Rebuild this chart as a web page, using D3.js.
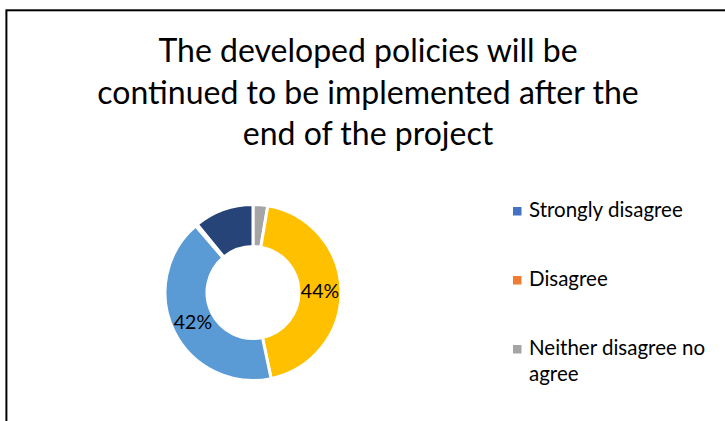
<!DOCTYPE html>
<html>
<head>
<meta charset="utf-8">
<script src="https://cdn.jsdelivr.net/npm/d3@7"></script>
<style>
  html, body { margin: 0; padding: 0; background: #fff; overflow: hidden; }
  text { font-family: Lato, "Open Sans", sans-serif; fill: #000; }
</style>
</head>
<body>
<svg id="chart" width="725" height="421"></svg>
<script>
// Chart title, one entry per line
const titleLines = [
  "The developed policies will be",
  "continued to be implemented after the",
  "end of the project"
];

// Donut slices, clockwise from 12 o'clock (percent of responses)
const sliceNames  = ["Neither disagree no agree", "Agree", "Strongly disagree", "Disagree", "Strongly agree"];
const sliceValues = [2.7, 44, 42, 0.4, 10.9];
const sliceColors = ["#A5A5A5", "#FFC000", "#5B9BD5", "#70AD47", "#264478"];
const labelledSlices = ["Agree", "Strongly disagree"];

// Legend entries
const legendNames  = ["Strongly disagree", "Disagree", "Neither disagree no agree"];
const legendColors = ["#4472C4", "#ED7D31", "#A5A5A5"];

const svg = d3.select("#chart");

// chart frame
svg.append("rect")
  .attr("x", 6.4).attr("y", 10.3)
  .attr("width", 760).attr("height", 460)
  .attr("fill", "#fff")
  .attr("stroke", "#000")
  .attr("stroke-width", 2);

// title
svg.append("g").selectAll("text")
  .data(titleLines)
  .join("text")
  .attr("x", 368)
  .attr("y", (d, i) => 62 + i * 41.5)
  .attr("text-anchor", "middle")
  .attr("font-size", 32)
  .text(d => d);

// donut
const cx = 253, cy = 292.5, rOuter = 88, rInner = 46;
const slices = sliceNames.map((name, i) => ({ name, value: sliceValues[i], color: sliceColors[i] }));
const pie = d3.pie().sort(null).value(d => d.value);
const arc = d3.arc().innerRadius(rInner).outerRadius(rOuter);
const arcs = pie(slices);

const g = svg.append("g").attr("transform", `translate(${cx},${cy})`);
g.selectAll("path")
  .data(arcs)
  .join("path")
  .attr("d", arc)
  .attr("fill", d => d.data.color)
  .attr("stroke", "#fff")
  .attr("stroke-width", 3)
  .attr("stroke-linejoin", "miter");

const labelArc = d3.arc().innerRadius((rInner + rOuter) / 2).outerRadius((rInner + rOuter) / 2);
g.selectAll("text.lbl")
  .data(arcs.filter(d => labelledSlices.includes(d.data.name)))
  .join("text")
  .attr("class", "lbl")
  .attr("transform", d => `translate(${labelArc.centroid(d)})`)
  .attr("text-anchor", "middle")
  .attr("dy", "0.36em")
  .attr("font-size", 19.5)
  .text(d => Math.round(d.data.value) + "%");

// legend
const legend = svg.append("g");
const rows = legend.selectAll("g")
  .data(legendNames)
  .join("g")
  .attr("transform", (d, i) => `translate(513, ${217 + i * 69})`);

rows.append("rect")
  .attr("x", 0).attr("y", -10)
  .attr("width", 8.5).attr("height", 8.5)
  .attr("fill", (d, i) => legendColors[i]);

rows.append("text")
  .attr("x", 16)
  .attr("font-size", 20.5)
  .each(function(d) {
    const t = d3.select(this);
    // wrap long names onto a second line
    const words = d.split(" ");
    const maxW = 188;
    let line = [];
    let tspan = t.append("tspan").attr("x", 16).attr("dy", 0);
    for (const w of words) {
      line.push(w);
      tspan.text(line.join(" "));
      if (tspan.node().getComputedTextLength() > maxW && line.length > 1) {
        line.pop();
        tspan.text(line.join(" "));
        line = [w];
        tspan = t.append("tspan").attr("x", 16).attr("dy", 26).text(w);
      }
    }
  });
</script>
</body>
</html>
